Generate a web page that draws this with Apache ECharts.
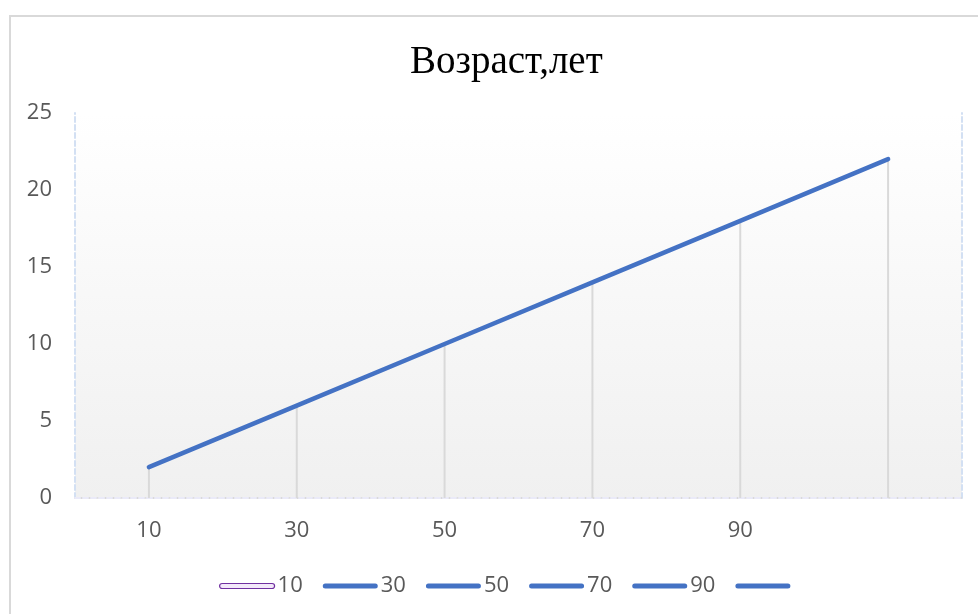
<!DOCTYPE html>
<html>
<head>
<meta charset="utf-8">
<script src="https://cdn.jsdelivr.net/npm/echarts@6/dist/echarts.min.js"></script>
<style>
  html, body { margin: 0; padding: 0; background: #ffffff; }
  #wrap { position: relative; width: 978px; height: 614px; overflow: hidden; }
  #frame { position: absolute; left: 9px; top: 15px; width: 1000px; height: 700px;
           border-left: 2px solid #d9d9d9; border-top: 2px solid #d9d9d9; box-sizing: border-box; }
  #chart { position: absolute; left: 0; top: 0; width: 978px; height: 614px; }
</style>
</head>
<body>
<div id="wrap">
  <div id="frame"></div>
  <div id="chart"></div>
</div>
<script>
// Categories along the x axis (the last one has no label)
const categories = ['10', '30', '50', '70', '90', ''];
// Age values, years
const ageValues = [2, 6, 10, 14, 18, 22];
// Legend entries
const legendNames = ['10', '30', '50', '70', '90', ' '];

const BLUE = '#4472c4';
const TEXT = '#595959';
const FONT = '"Open Sans", "Noto Sans", sans-serif';

const legendIcon = 'path://M2.5,0 H52.5 A2.5,2.5 0 0 1 52.5,5 H2.5 A2.5,2.5 0 0 1 2.5,0 Z';

const chart = echarts.init(document.getElementById('chart'), null, { renderer: 'canvas' });

const legendData = legendNames.map((name, i) => (
  i === 0
    ? { name, icon: legendIcon, itemStyle: { color: '#f3e8fa', borderColor: '#7030a0', borderWidth: 1.2 } }
    : { name, icon: legendIcon, itemStyle: { color: BLUE, borderWidth: 0 } }
));

// Series only used to populate the legend
const legendSeries = legendNames.slice(0, 5).map((name, i) => ({
  name,
  type: 'line',
  data: [],
  itemStyle: i === 0 ? { color: '#f3e8fa' } : { color: BLUE },
  showSymbol: false
}));

chart.setOption({
  animation: false,
  backgroundColor: 'transparent',
  title: {
    text: 'Возраст,лет',
    left: 405,
    top: 38,
    textStyle: { fontFamily: '"Liberation Serif", "Times New Roman", serif', fontSize: 39, fontWeight: 'normal', color: '#000000' }
  },
  legend: {
    data: legendData,
    top: 570,
    left: 214,
    itemWidth: 55,
    itemHeight: 5,
    itemGap: 20,
    textStyle: { fontFamily: FONT, fontSize: 22, color: TEXT, padding: [0, 0, 0, -2] }
  },
  grid: {
    left: 75, right: 16, top: 113, bottom: 116,
    show: true,
    borderWidth: 0,
    backgroundColor: {
      type: 'linear', x: 0, y: 0, x2: 0, y2: 1,
      colorStops: [{ offset: 0, color: '#ffffff' }, { offset: 1, color: '#f0f0f0' }]
    }
  },
  xAxis: [
    {
      type: 'category',
      data: categories,
      boundaryGap: true,
      axisLine: { show: true, lineStyle: { color: '#d9d9d9', width: 2, type: [4, 2] } },
      axisTick: { show: false },
      axisLabel: { fontFamily: FONT, fontSize: 22, color: TEXT, margin: 22 },
      splitLine: { show: false }
    },
    {
      type: 'category',
      data: categories,
      position: 'top',
      axisLine: { show: true, lineStyle: { color: '#eaeaf8', width: 2, type: [5, 3] } },
      axisTick: { show: false },
      axisLabel: { show: false }
    }
  ],
  yAxis: [
    {
      type: 'value',
      min: 0, max: 25, interval: 5,
      axisLine: { show: true, lineStyle: { color: '#d3e0f3', width: 2, type: [5, 3] } },
      axisTick: { show: false },
      axisLabel: { fontFamily: FONT, fontSize: 22, color: TEXT, margin: 23 },
      splitLine: { show: false }
    },
    {
      type: 'value',
      min: 0, max: 25, interval: 5,
      position: 'right',
      axisLine: { show: true, lineStyle: { color: '#d3e0f3', width: 2, type: [5, 3] } },
      axisTick: { show: false },
      axisLabel: { show: false },
      splitLine: { show: false }
    }
  ],
  series: [
    // drop lines from each point to the axis
    {
      name: 'drop',
      type: 'bar',
      data: ageValues,
      barWidth: 2,
      itemStyle: { color: '#d9d9d9' },
      silent: true,
      z: 1
    },
    ...legendSeries,
    {
      name: ' ',
      type: 'line',
      data: ageValues,
      showSymbol: false,
      symbol: 'none',
      lineStyle: { color: BLUE, width: 4.5, cap: 'round' },
      itemStyle: { color: BLUE },
      z: 3
    }
  ]
});
</script>
</body>
</html>
